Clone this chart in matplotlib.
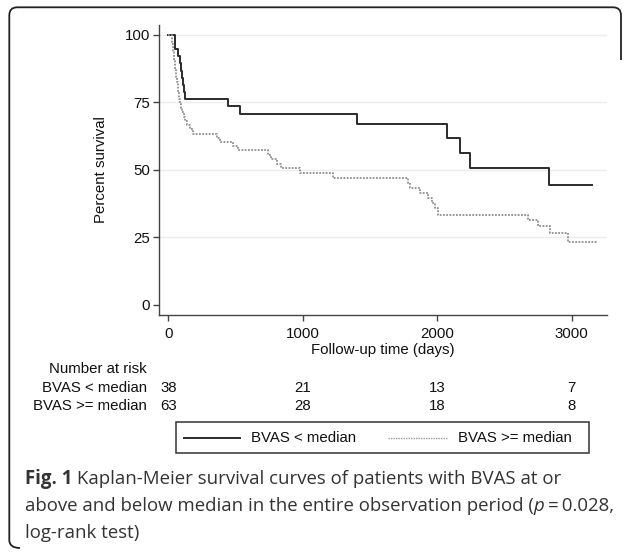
import matplotlib
matplotlib.use("Agg")
import matplotlib.pyplot as plt
from matplotlib.patches import Rectangle, PathPatch
from matplotlib.path import Path
from matplotlib.lines import Line2D
import matplotlib.transforms as mtransforms

# Kaplan-Meier step data (days, percent surviving)
low_days = [0, 50, 70, 85, 95, 105, 112, 118, 125, 446, 533, 1402, 2071, 2173, 2245, 2835, 3155]
low_surv = [100, 94.7, 92.1, 89.5, 86.8, 84.2, 81.6, 78.9, 76.3, 73.6, 70.8, 67.1, 61.7, 56.2, 50.7, 44.4, 44.4]

high_days = [0, 25, 30, 35, 38, 40, 44, 48, 51, 55, 60, 65, 70, 75, 79, 83, 88, 96, 104, 113,
             125, 140, 160, 185, 360, 385, 484, 515, 744, 765, 810, 840, 980, 1228, 1780, 1800,
             1873, 1930, 1960, 1985, 2009, 2679, 2753, 2840, 2976, 3187]
high_surv = [100, 98.4, 96.8, 95.2, 93.7, 92.1, 90.5, 88.9, 87.3, 85.7, 84.1, 82.5, 81.0, 79.4, 77.8,
             76.2, 74.6, 73.0, 71.4, 69.8, 68.3, 66.7, 65.1, 63.5, 62.0, 60.4, 58.9, 57.3, 55.6, 54.0,
             52.4, 50.8, 48.8, 47.1, 45.2, 43.3, 41.5, 39.7, 37.9, 36.0, 33.4, 31.6, 29.1, 26.6, 23.5, 23.5]

risk_days = [0, 1000, 2000, 3000]
risk_low = [38, 21, 13, 7]
risk_high = [63, 28, 18, 8]
group_labels = ["BVAS < median", "BVAS >= median"]

y_ticks = [0, 25, 50, 75, 100]
x_ticks = [0, 1000, 2000, 3000]

W, H = 627, 553
plt.rcParams["font.family"] = ["Liberation Sans", "DejaVu Sans"]

fig = plt.figure(figsize=(W / 100, H / 100), dpi=100)


def fx(x):
    return x / W


def fy(y):
    return 1 - y / H


# frame around the figure panel (open on the right/bottom like the source)
r = 8
verts = [(20, 548), (9.3, 548), (9.3, 540), (9.3, 7.3 + r), (9.3, 7.3), (9.3 + r, 7.3),
         (621 - r, 7.3), (621, 7.3), (621, 7.3 + r), (621, 60)]
codes = [Path.MOVETO, Path.CURVE3, Path.CURVE3, Path.LINETO, Path.CURVE3, Path.CURVE3,
         Path.LINETO, Path.CURVE3, Path.CURVE3, Path.LINETO]
frame = PathPatch(Path([(fx(a), fy(b)) for a, b in verts], codes), transform=fig.transFigure,
                  fill=False, edgecolor="#222222", lw=1.3)
fig.patches.append(frame)

ax = fig.add_axes([fx(158.5), fy(314.7), fx(607.3 - 158.5), (314.7 - 25) / H])
ax.set_xlim(-73, 3266)
ax.set_ylim(-3.6, 103.7)

for g in y_ticks[1:]:
    ax.axhline(g, color="#ececec", lw=1, zorder=0)

ax.step(low_days, low_surv, where="post", color="#2b2b2b", lw=1.4)
ax.step(high_days, high_surv, where="post", color="#8e8e8e", lw=1.3, linestyle=(0, (1, 0.8)))

for s in ["top", "right"]:
    ax.spines[s].set_visible(False)
for s in ["left", "bottom"]:
    ax.spines[s].set_color("#444444")
    ax.spines[s].set_linewidth(1.0)

ax.set_yticks(y_ticks)
ax.set_xticks(x_ticks)
ax.tick_params(axis="both", direction="out", length=4.5, width=1, color="#444444",
               labelsize=10.8, labelcolor="#111111")
ax.tick_params(axis="y", pad=1.5)
ax.tick_params(axis="x", pad=4)
ax.set_ylabel("Percent survival", fontsize=10.8, color="#111111", labelpad=12)
ax.set_xlabel("Follow-up time (days)", fontsize=10.8, color="#111111", labelpad=2)

# number at risk table
tr = mtransforms.blended_transform_factory(ax.transData, fig.transFigure)
fig.text(fx(147), fy(369), "Number at risk", ha="right", va="center", fontsize=10.8, color="#111111")
for y, lab, vals in [(387.5, group_labels[0], risk_low), (405.5, group_labels[1], risk_high)]:
    fig.text(fx(147), fy(y), lab, ha="right", va="center", fontsize=10.8, color="#111111")
    for d, v in zip(risk_days, vals):
        ax.text(d, fy(y), str(v), transform=tr, ha="center", va="center", fontsize=10.8,
                color="#111111")

# legend box
fig.patches.append(Rectangle((fx(176), fy(452.7)), fx(589 - 176), (452.7 - 422.3) / H,
                             transform=fig.transFigure, fill=False, edgecolor="#333333", lw=1.1))
fig.lines.append(Line2D([fx(184), fx(240)], [fy(438), fy(438)], transform=fig.transFigure,
                        color="#2b2b2b", lw=1.4))
fig.text(fx(251), fy(438), group_labels[0], ha="left", va="center", fontsize=10.8, color="#111111")
fig.lines.append(Line2D([fx(388), fx(447)], [fy(438), fy(438)], transform=fig.transFigure,
                        color="#9a9a9a", lw=1.0, linestyle=(0, (1, 0.8))))
fig.text(fx(458), fy(438), group_labels[1], ha="left", va="center", fontsize=10.8, color="#111111")

# caption
cap = dict(fontsize=13.4, color="#333333", family="Open Sans", va="center")
t = fig.text(fx(25), fy(479), "Fig. 1", fontweight="bold", ha="left", **cap)
ax.annotate(" Kaplan-Meier survival curves of patients with BVAS at or", xy=(1, 0.5),
            xycoords=t, ha="left", annotation_clip=False, **cap)
t2 = fig.text(fx(25), fy(506), "above and below median in the entire observation period (",
              ha="left", **cap)
t3 = ax.annotate("p", xy=(1, 0.5), xycoords=t2, ha="left", style="italic",
                 annotation_clip=False, **cap)
ax.annotate("\u2009=\u20090.028,", xy=(1, 0.5), xycoords=t3, ha="left", annotation_clip=False, **cap)
fig.text(fx(25), fy(533), "log-rank test)", ha="left", **cap)

fig.savefig("out.png", dpi=100)
